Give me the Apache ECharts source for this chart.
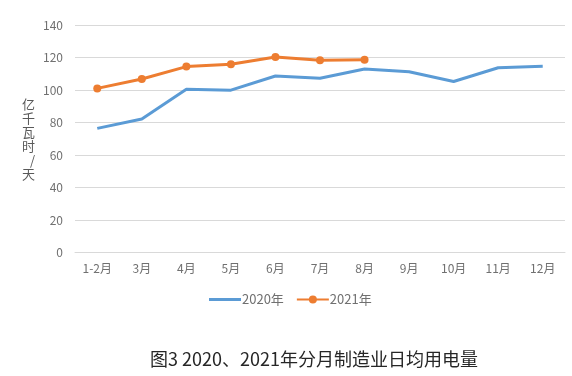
<!DOCTYPE html>
<html>
<head>
<meta charset="utf-8">
<script src="https://cdn.jsdelivr.net/npm/echarts@6/dist/echarts.min.js"></script>
<style>
  html, body { margin: 0; padding: 0; background: #fff; }
  #chart { width: 572px; height: 376px; }
</style>
</head>
<body>
<div id="chart"></div>
<script>
// 横轴月份
const months = ['1-2月', '3月', '4月', '5月', '6月', '7月', '8月', '9月', '10月', '11月', '12月']
// 日均用电量（亿千瓦时/天）
const data2020 = [76.4, 82.2, 100.4, 99.9, 108.6, 107.2, 112.9, 111.2, 105.2, 113.7, 114.6]
const data2021 = [101.0, 106.8, 114.4, 115.8, 120.3, 118.3, 118.6]
const seriesNames = ['2020年', '2021年']

const font = "'Noto Sans CJK SC', 'Noto Sans', sans-serif"
const labelColor = '#707070'
const chart = echarts.init(document.getElementById('chart'))

const option = {
  animation: false,
  textStyle: { fontFamily: font },
  title: {
    text: '图3 2020、2021年分月制造业日均用电量',
    left: 145,
    top: 345,
    textStyle: { fontSize: 18, fontWeight: 'normal', color: '#262626', fontFamily: font }
  },
  grid: {
    left: 75,
    right: 7,
    top: 25,
    bottom: 123.5
  },
  legend: {
    // 2020 只画线，不要圆点
    data: [
      { name: seriesNames[0], icon: 'path://M0,0 L32,0 L32,3 L0,3 Z' },
      { name: seriesNames[1] }
    ],
    top: 288,
    left: 204,
    itemWidth: 32,
    itemHeight: 10,
    itemGap: 12,
    textStyle: { color: labelColor, fontSize: 13, padding: [0, 0, 0, -4] }
  },
  xAxis: {
    type: 'category',
    data: months,
    boundaryGap: true,
    axisLine: { lineStyle: { color: '#d9d9d9' } },
    axisTick: { show: false },
    axisLabel: { color: labelColor, fontSize: 12, margin: 10 }
  },
  yAxis: {
    type: 'value',
    min: 0,
    max: 140,
    interval: 20,
    name: '亿\n千\n瓦\n时\n/\n天',
    nameLocation: 'middle',
    nameRotate: 0,
    nameGap: 40,
    nameTextStyle: { color: '#595959', fontSize: 13, lineHeight: 14 },
    axisLine: { show: false },
    axisTick: { show: false },
    axisLabel: { color: labelColor, fontSize: 12, margin: 12 },
    splitLine: { lineStyle: { color: '#d9d9d9', width: 1 } }
  },
  series: [
    {
      name: seriesNames[0],
      type: 'line',
      data: data2020,
      symbol: 'none',
      lineStyle: { color: '#5B9BD5', width: 3 },
      itemStyle: { color: '#5B9BD5' }
    },
    {
      name: seriesNames[1],
      type: 'line',
      data: data2021,
      symbol: 'circle',
      symbolSize: 8,
      lineStyle: { color: '#ED7D31', width: 3 },
      itemStyle: { color: '#ED7D31' }
    }
  ]
}

chart.setOption(option)
</script>
</body>
</html>
